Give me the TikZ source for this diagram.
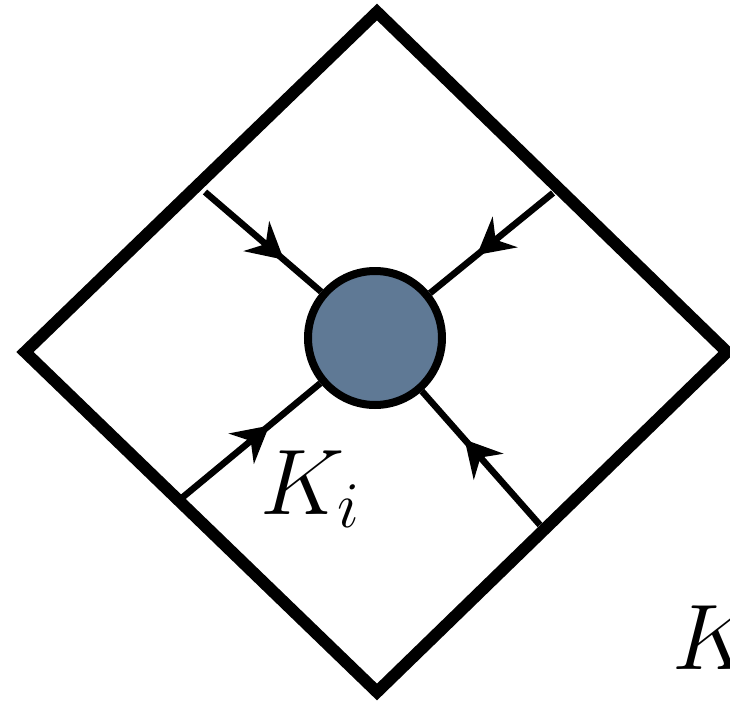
\documentclass[tikz,border=0pt]{standalone}
\usepackage{fix-cm}
\usetikzlibrary{arrows.meta,decorations.markings}
\definecolor{blobblue}{RGB}{95,121,149}
\tikzset{
  leg/.style={line width=0.13cm},
  midarrow/.style={postaction={decorate},
    decoration={markings,mark=at position #1 with {\arrow{Stealth[length=0.72cm,width=0.78cm,inset=0.24cm]}}}},
  biglabel/.style={inner sep=0pt,font=\fontsize{53}{60}\selectfont},
}
\begin{document}
\begin{tikzpicture}[line join=miter]
    \useasboundingbox (-7.54,-7.04) rectangle (7.06,7.04);

    % 绘制外框
    \draw[line width=0.24cm] (0,6.8) -- (7,0) -- (0,-6.8) -- (-7.04,0) -- cycle;

    % 外框上的端点
    \coordinate (ul) at (-3.44,3.2);
    \coordinate (ur) at (3.52,3.18);
    \coordinate (ll) at (-3.88,-2.9);
    \coordinate (lr) at (3.26,-3.46);

    % 顶点
    \node[circle, draw, line width=0.16cm, fill=blobblue, minimum size=2.68cm, inner sep=0pt] (blob) at (-0.04,0.28) {};

    % 四条内线
    \draw[leg, midarrow=0.68] (ul) -- (blob);
    \draw[leg, midarrow=0.62] (ur) -- (blob);
    \draw[leg, midarrow=0.63] (ll) -- (blob);
    \draw[leg, midarrow=0.64] (lr) -- (blob);

    % 标注
    \node[biglabel, anchor=base west] (ki) at (-2.34,-3.24) {$K_i$};
    \node[biglabel, anchor=base west] (kout) at (5.9,-6.34) {$K$};
\end{tikzpicture}
\end{document}
